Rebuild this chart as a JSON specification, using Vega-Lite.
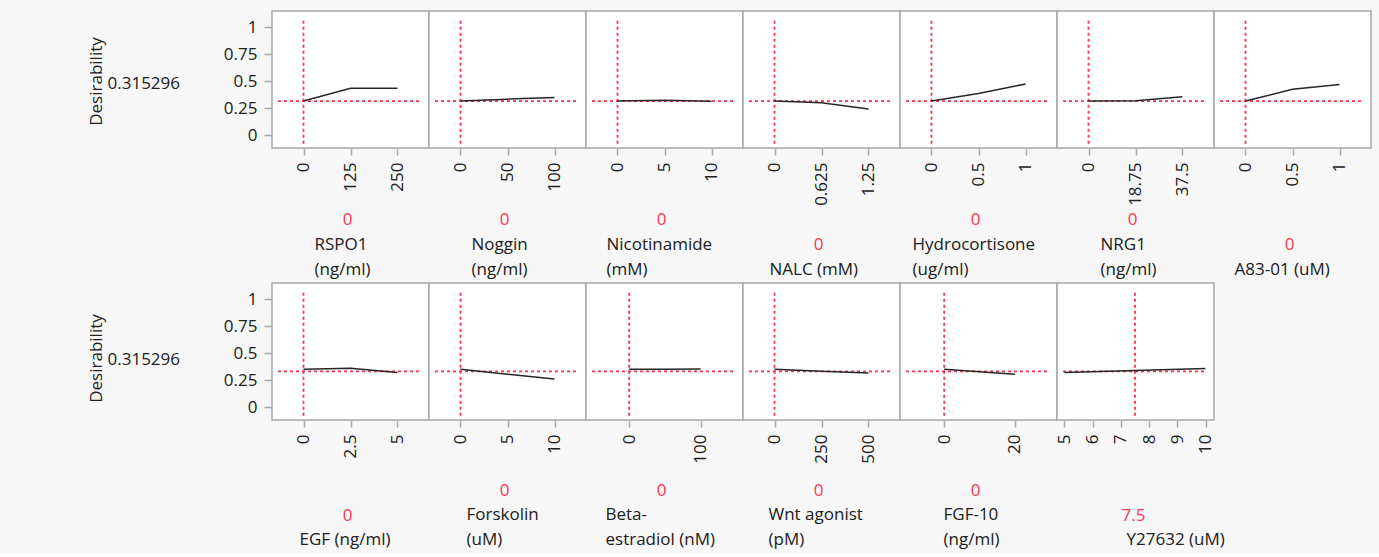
{
  "$schema": "https://vega.github.io/schema/vega-lite/v6.json",
  "background": "#f7f7f7",
  "padding": {"left": 86, "top": 10, "right": 10, "bottom": 5},
  "datasets": {
    "profiles": [
      {"factor": "RSPO1", "level": 0, "desirability": 0.315},
      {"factor": "RSPO1", "level": 125, "desirability": 0.433},
      {"factor": "RSPO1", "level": 250, "desirability": 0.433},
      {"factor": "Noggin", "level": 0, "desirability": 0.315},
      {"factor": "Noggin", "level": 50, "desirability": 0.333},
      {"factor": "Noggin", "level": 100, "desirability": 0.348},
      {"factor": "Nicotinamide", "level": 0, "desirability": 0.315},
      {"factor": "Nicotinamide", "level": 5, "desirability": 0.322},
      {"factor": "Nicotinamide", "level": 10, "desirability": 0.313},
      {"factor": "NALC", "level": 0, "desirability": 0.315},
      {"factor": "NALC", "level": 0.625, "desirability": 0.3},
      {"factor": "NALC", "level": 1.25, "desirability": 0.242},
      {"factor": "Hydrocortisone", "level": 0, "desirability": 0.315},
      {"factor": "Hydrocortisone", "level": 0.5, "desirability": 0.385},
      {"factor": "Hydrocortisone", "level": 1, "desirability": 0.474},
      {"factor": "NRG1", "level": 0, "desirability": 0.315},
      {"factor": "NRG1", "level": 18.75, "desirability": 0.317},
      {"factor": "NRG1", "level": 37.5, "desirability": 0.354},
      {"factor": "A83-01", "level": 0, "desirability": 0.315},
      {"factor": "A83-01", "level": 0.5, "desirability": 0.424},
      {"factor": "A83-01", "level": 1, "desirability": 0.468},
      {"factor": "EGF", "level": 0, "desirability": 0.351},
      {"factor": "EGF", "level": 2.5, "desirability": 0.36},
      {"factor": "EGF", "level": 5, "desirability": 0.321},
      {"factor": "Forskolin", "level": 0, "desirability": 0.351},
      {"factor": "Forskolin", "level": 5, "desirability": 0.305},
      {"factor": "Forskolin", "level": 10, "desirability": 0.26},
      {"factor": "Beta-estradiol", "level": 0, "desirability": 0.351},
      {"factor": "Beta-estradiol", "level": 50, "desirability": 0.351},
      {"factor": "Beta-estradiol", "level": 100, "desirability": 0.352},
      {"factor": "Wnt agonist", "level": 0, "desirability": 0.351},
      {"factor": "Wnt agonist", "level": 250, "desirability": 0.333},
      {"factor": "Wnt agonist", "level": 500, "desirability": 0.315},
      {"factor": "FGF-10", "level": 0, "desirability": 0.351},
      {"factor": "FGF-10", "level": 10, "desirability": 0.328},
      {"factor": "FGF-10", "level": 20, "desirability": 0.305},
      {"factor": "Y27632", "level": 5, "desirability": 0.321},
      {"factor": "Y27632", "level": 7.5, "desirability": 0.34},
      {"factor": "Y27632", "level": 10, "desirability": 0.358}
    ],
    "settings": [
      {"factor": "RSPO1", "current": 0, "overall": 0.315},
      {"factor": "Noggin", "current": 0, "overall": 0.315},
      {"factor": "Nicotinamide", "current": 0, "overall": 0.315},
      {"factor": "NALC", "current": 0, "overall": 0.315},
      {"factor": "Hydrocortisone", "current": 0, "overall": 0.315},
      {"factor": "NRG1", "current": 0, "overall": 0.315},
      {"factor": "A83-01", "current": 0, "overall": 0.315},
      {"factor": "EGF", "current": 0, "overall": 0.33},
      {"factor": "Forskolin", "current": 0, "overall": 0.33},
      {"factor": "Beta-estradiol", "current": 0, "overall": 0.33},
      {"factor": "Wnt agonist", "current": 0, "overall": 0.33},
      {"factor": "FGF-10", "current": 0, "overall": 0.33},
      {"factor": "Y27632", "current": 7.5, "overall": 0.33}
    ]
  },
  "config": {
    "font": "Open Sans",
    "view": {"stroke": "#a8a8a8", "strokeWidth": 1.5, "fill": "#ffffff"},
    "axis": {"labelFont": "Open Sans", "labelFontSize": 17, "labelColor": "#202020", "titleFont": "Open Sans", "titleFontSize": 17, "titleFontWeight": "normal", "titleColor": "#202020", "tickColor": "#a8a8a8", "tickWidth": 1.5, "domain": false, "grid": false, "labelOverlap": false, "labelFlush": false},
    "axisX": {"labelAngle": -90, "tickSize": 7, "labelPadding": 7},
    "axisY": {"tickSize": 8, "labelPadding": 7},
    "rule": {"color": "#f5334f", "strokeDash": [3, 3], "strokeWidth": 1.8},
    "line": {"color": "#262626", "strokeWidth": 1.5},
    "concat": {"spacing": 0}
  },
  "spacing": 3,
  "vconcat": [
    {
      "spacing": 0,
      "bounds": "flush",
      "hconcat": [
        {
          "width": 157, "height": 137,
          "layer": [
            {"data": {"name": "settings"}, "transform": [{"filter": "datum.factor === 'RSPO1'"}], "mark": "rule",
             "encoding": {
               "x": {"field": "current", "type": "quantitative", "scale": {"domain": [-83.8, 333.8], "nice": false, "zero": false}, "axis": {"orient": "bottom", "labels": false, "ticks": false, "domain": false, "title": "0", "titleColor": "#ff3355", "titleX": 75, "titleY": 71, "titleAlign": "center", "titleBaseline": "middle"}},
               "y": {"datum": -0.08, "type": "quantitative", "scale": {"domain": [-0.12, 1.15], "nice": false, "zero": false}, "axis": null},
               "y2": {"datum": 1.06}}},
            {"data": {"name": "settings"}, "transform": [{"filter": "datum.factor === 'RSPO1'"}], "mark": "rule",
             "encoding": {
               "y": {"field": "overall", "type": "quantitative", "axis": {"orient": "left", "labels": false, "ticks": false, "domain": false, "title": "0.315296", "titleAngle": 0, "titleAlign": "left", "titleBaseline": "middle", "titleX": -165, "titleY": 72}},
               "x": {"datum": -67.8, "type": "quantitative", "axis": null},
               "x2": {"datum": 311.2}}},
            {"data": {"name": "profiles"}, "transform": [{"filter": "datum.factor === 'RSPO1'"}], "mark": "line",
             "encoding": {
               "x": {"field": "level", "type": "quantitative", "axis": {"orient": "bottom", "values": [0, 125, 250], "format": ".6~r", "title": ["RSPO1", "(ng/ml)"], "titleX": 42, "titleY": 105, "titleAlign": "left", "titleBaseline": "bottom", "titleLineHeight": 25.5}},
               "y": {"field": "desirability", "type": "quantitative", "axis": {"orient": "left", "values": [0, 0.25, 0.5, 0.75, 1], "format": ".6~r", "title": "Desirability", "titleAngle": -90, "titleX": -175.5, "titleY": 70, "titleAlign": "center", "titleBaseline": "middle"}}}}
          ],
          "resolve": {"axis": {"x": "independent", "y": "independent"}}
        },
        {
          "width": 157, "height": 137,
          "layer": [
            {"data": {"name": "settings"}, "transform": [{"filter": "datum.factor === 'Noggin'"}], "mark": "rule",
             "encoding": {
               "x": {"field": "current", "type": "quantitative", "scale": {"domain": [-33.5, 133.5], "nice": false, "zero": false}, "axis": {"orient": "bottom", "labels": false, "ticks": false, "domain": false, "title": "0", "titleColor": "#ff3355", "titleX": 75, "titleY": 71, "titleAlign": "center", "titleBaseline": "middle"}},
               "y": {"datum": -0.08, "type": "quantitative", "scale": {"domain": [-0.12, 1.15], "nice": false, "zero": false}, "axis": null},
               "y2": {"datum": 1.06}}},
            {"data": {"name": "settings"}, "transform": [{"filter": "datum.factor === 'Noggin'"}], "mark": "rule",
             "encoding": {
               "y": {"field": "overall", "type": "quantitative", "axis": null},
               "x": {"datum": -27.1, "type": "quantitative", "axis": null},
               "x2": {"datum": 124.5}}},
            {"data": {"name": "profiles"}, "transform": [{"filter": "datum.factor === 'Noggin'"}], "mark": "line",
             "encoding": {
               "x": {"field": "level", "type": "quantitative", "axis": {"orient": "bottom", "values": [0, 50, 100], "format": ".6~r", "title": ["Noggin", "(ng/ml)"], "titleX": 42, "titleY": 105, "titleAlign": "left", "titleBaseline": "bottom", "titleLineHeight": 25.5}},
               "y": {"field": "desirability", "type": "quantitative", "axis": null}}}
          ],
          "resolve": {"axis": {"x": "independent", "y": "independent"}}
        },
        {
          "width": 157, "height": 137,
          "layer": [
            {"data": {"name": "settings"}, "transform": [{"filter": "datum.factor === 'Nicotinamide'"}], "mark": "rule",
             "encoding": {
               "x": {"field": "current", "type": "quantitative", "scale": {"domain": [-3.35, 13.35], "nice": false, "zero": false}, "axis": {"orient": "bottom", "labels": false, "ticks": false, "domain": false, "title": "0", "titleColor": "#ff3355", "titleX": 75, "titleY": 71, "titleAlign": "center", "titleBaseline": "middle"}},
               "y": {"datum": -0.08, "type": "quantitative", "scale": {"domain": [-0.12, 1.15], "nice": false, "zero": false}, "axis": null},
               "y2": {"datum": 1.06}}},
            {"data": {"name": "settings"}, "transform": [{"filter": "datum.factor === 'Nicotinamide'"}], "mark": "rule",
             "encoding": {
               "y": {"field": "overall", "type": "quantitative", "axis": null},
               "x": {"datum": -2.71, "type": "quantitative", "axis": null},
               "x2": {"datum": 12.45}}},
            {"data": {"name": "profiles"}, "transform": [{"filter": "datum.factor === 'Nicotinamide'"}], "mark": "line",
             "encoding": {
               "x": {"field": "level", "type": "quantitative", "axis": {"orient": "bottom", "values": [0, 5, 10], "format": ".6~r", "title": ["Nicotinamide", "(mM)"], "titleX": 20, "titleY": 105, "titleAlign": "left", "titleBaseline": "bottom", "titleLineHeight": 25.5}},
               "y": {"field": "desirability", "type": "quantitative", "axis": null}}}
          ],
          "resolve": {"axis": {"x": "independent", "y": "independent"}}
        },
        {
          "width": 157, "height": 137,
          "layer": [
            {"data": {"name": "settings"}, "transform": [{"filter": "datum.factor === 'NALC'"}], "mark": "rule",
             "encoding": {
               "x": {"field": "current", "type": "quantitative", "scale": {"domain": [-0.419, 1.669], "nice": false, "zero": false}, "axis": {"orient": "bottom", "labels": false, "ticks": false, "domain": false, "title": "0", "titleColor": "#ff3355", "titleX": 75, "titleY": 96, "titleAlign": "center", "titleBaseline": "middle"}},
               "y": {"datum": -0.08, "type": "quantitative", "scale": {"domain": [-0.12, 1.15], "nice": false, "zero": false}, "axis": null},
               "y2": {"datum": 1.06}}},
            {"data": {"name": "settings"}, "transform": [{"filter": "datum.factor === 'NALC'"}], "mark": "rule",
             "encoding": {
               "y": {"field": "overall", "type": "quantitative", "axis": null},
               "x": {"datum": -0.339, "type": "quantitative", "axis": null},
               "x2": {"datum": 1.556}}},
            {"data": {"name": "profiles"}, "transform": [{"filter": "datum.factor === 'NALC'"}], "mark": "line",
             "encoding": {
               "x": {"field": "level", "type": "quantitative", "axis": {"orient": "bottom", "values": [0, 0.625, 1.25], "format": ".6~r", "title": "NALC (mM)", "titleX": 26, "titleY": 130.5, "titleAlign": "left", "titleBaseline": "bottom", "titleLineHeight": 25.5}},
               "y": {"field": "desirability", "type": "quantitative", "axis": null}}}
          ],
          "resolve": {"axis": {"x": "independent", "y": "independent"}}
        },
        {
          "width": 157, "height": 137,
          "layer": [
            {"data": {"name": "settings"}, "transform": [{"filter": "datum.factor === 'Hydrocortisone'"}], "mark": "rule",
             "encoding": {
               "x": {"field": "current", "type": "quantitative", "scale": {"domain": [-0.335, 1.335], "nice": false, "zero": false}, "axis": {"orient": "bottom", "labels": false, "ticks": false, "domain": false, "title": "0", "titleColor": "#ff3355", "titleX": 75, "titleY": 71, "titleAlign": "center", "titleBaseline": "middle"}},
               "y": {"datum": -0.08, "type": "quantitative", "scale": {"domain": [-0.12, 1.15], "nice": false, "zero": false}, "axis": null},
               "y2": {"datum": 1.06}}},
            {"data": {"name": "settings"}, "transform": [{"filter": "datum.factor === 'Hydrocortisone'"}], "mark": "rule",
             "encoding": {
               "y": {"field": "overall", "type": "quantitative", "axis": null},
               "x": {"datum": -0.271, "type": "quantitative", "axis": null},
               "x2": {"datum": 1.245}}},
            {"data": {"name": "profiles"}, "transform": [{"filter": "datum.factor === 'Hydrocortisone'"}], "mark": "line",
             "encoding": {
               "x": {"field": "level", "type": "quantitative", "axis": {"orient": "bottom", "values": [0, 0.5, 1], "format": ".6~r", "title": ["Hydrocortisone", "(ug/ml)"], "titleX": 12, "titleY": 105, "titleAlign": "left", "titleBaseline": "bottom", "titleLineHeight": 25.5}},
               "y": {"field": "desirability", "type": "quantitative", "axis": null}}}
          ],
          "resolve": {"axis": {"x": "independent", "y": "independent"}}
        },
        {
          "width": 157, "height": 137,
          "layer": [
            {"data": {"name": "settings"}, "transform": [{"filter": "datum.factor === 'NRG1'"}], "mark": "rule",
             "encoding": {
               "x": {"field": "current", "type": "quantitative", "scale": {"domain": [-12.57, 50.07], "nice": false, "zero": false}, "axis": {"orient": "bottom", "labels": false, "ticks": false, "domain": false, "title": "0", "titleColor": "#ff3355", "titleX": 75, "titleY": 71, "titleAlign": "center", "titleBaseline": "middle"}},
               "y": {"datum": -0.08, "type": "quantitative", "scale": {"domain": [-0.12, 1.15], "nice": false, "zero": false}, "axis": null},
               "y2": {"datum": 1.06}}},
            {"data": {"name": "settings"}, "transform": [{"filter": "datum.factor === 'NRG1'"}], "mark": "rule",
             "encoding": {
               "y": {"field": "overall", "type": "quantitative", "axis": null},
               "x": {"datum": -10.17, "type": "quantitative", "axis": null},
               "x2": {"datum": 46.68}}},
            {"data": {"name": "profiles"}, "transform": [{"filter": "datum.factor === 'NRG1'"}], "mark": "line",
             "encoding": {
               "x": {"field": "level", "type": "quantitative", "axis": {"orient": "bottom", "values": [0, 18.75, 37.5], "format": ".6~r", "title": ["NRG1", "(ng/ml)"], "titleX": 43, "titleY": 105, "titleAlign": "left", "titleBaseline": "bottom", "titleLineHeight": 25.5}},
               "y": {"field": "desirability", "type": "quantitative", "axis": null}}}
          ],
          "resolve": {"axis": {"x": "independent", "y": "independent"}}
        },
        {
          "width": 157, "height": 137,
          "layer": [
            {"data": {"name": "settings"}, "transform": [{"filter": "datum.factor === 'A83-01'"}], "mark": "rule",
             "encoding": {
               "x": {"field": "current", "type": "quantitative", "scale": {"domain": [-0.335, 1.335], "nice": false, "zero": false}, "axis": {"orient": "bottom", "labels": false, "ticks": false, "domain": false, "title": "0", "titleColor": "#ff3355", "titleX": 75, "titleY": 96, "titleAlign": "center", "titleBaseline": "middle"}},
               "y": {"datum": -0.08, "type": "quantitative", "scale": {"domain": [-0.12, 1.15], "nice": false, "zero": false}, "axis": null},
               "y2": {"datum": 1.06}}},
            {"data": {"name": "settings"}, "transform": [{"filter": "datum.factor === 'A83-01'"}], "mark": "rule",
             "encoding": {
               "y": {"field": "overall", "type": "quantitative", "axis": null},
               "x": {"datum": -0.271, "type": "quantitative", "axis": null},
               "x2": {"datum": 1.245}}},
            {"data": {"name": "profiles"}, "transform": [{"filter": "datum.factor === 'A83-01'"}], "mark": "line",
             "encoding": {
               "x": {"field": "level", "type": "quantitative", "axis": {"orient": "bottom", "values": [0, 0.5, 1], "format": ".6~r", "title": "A83-01 (uM)", "titleX": 20, "titleY": 130.5, "titleAlign": "left", "titleBaseline": "bottom", "titleLineHeight": 25.5}},
               "y": {"field": "desirability", "type": "quantitative", "axis": null}}}
          ],
          "resolve": {"axis": {"x": "independent", "y": "independent"}}
        }
      ]
    },
    {
      "spacing": 0,
      "bounds": "flush",
      "hconcat": [
        {
          "width": 157, "height": 137,
          "layer": [
            {"data": {"name": "settings"}, "transform": [{"filter": "datum.factor === 'EGF'"}], "mark": "rule",
             "encoding": {
               "x": {"field": "current", "type": "quantitative", "scale": {"domain": [-1.676, 6.676], "nice": false, "zero": false}, "axis": {"orient": "bottom", "labels": false, "ticks": false, "domain": false, "title": "0", "titleColor": "#ff3355", "titleX": 75, "titleY": 95, "titleAlign": "center", "titleBaseline": "middle"}},
               "y": {"datum": -0.08, "type": "quantitative", "scale": {"domain": [-0.12, 1.15], "nice": false, "zero": false}, "axis": null},
               "y2": {"datum": 1.06}}},
            {"data": {"name": "settings"}, "transform": [{"filter": "datum.factor === 'EGF'"}], "mark": "rule",
             "encoding": {
               "y": {"field": "overall", "type": "quantitative", "axis": {"orient": "left", "labels": false, "ticks": false, "domain": false, "title": "0.315296", "titleAngle": 0, "titleAlign": "left", "titleBaseline": "middle", "titleX": -165, "titleY": 76}},
               "x": {"datum": -1.357, "type": "quantitative", "axis": null},
               "x2": {"datum": 6.224}}},
            {"data": {"name": "profiles"}, "transform": [{"filter": "datum.factor === 'EGF'"}], "mark": "line",
             "encoding": {
               "x": {"field": "level", "type": "quantitative", "axis": {"orient": "bottom", "values": [0, 2.5, 5], "format": ".6~r", "title": "EGF (ng/ml)", "titleX": 27, "titleY": 128, "titleAlign": "left", "titleBaseline": "bottom", "titleLineHeight": 25.5}},
               "y": {"field": "desirability", "type": "quantitative", "axis": {"orient": "left", "values": [0, 0.25, 0.5, 0.75, 1], "format": ".6~r", "title": "Desirability", "titleAngle": -90, "titleX": -175.5, "titleY": 75, "titleAlign": "center", "titleBaseline": "middle"}}}}
          ],
          "resolve": {"axis": {"x": "independent", "y": "independent"}}
        },
        {
          "width": 157, "height": 137,
          "layer": [
            {"data": {"name": "settings"}, "transform": [{"filter": "datum.factor === 'Forskolin'"}], "mark": "rule",
             "encoding": {
               "x": {"field": "current", "type": "quantitative", "scale": {"domain": [-3.35, 13.35], "nice": false, "zero": false}, "axis": {"orient": "bottom", "labels": false, "ticks": false, "domain": false, "title": "0", "titleColor": "#ff3355", "titleX": 75, "titleY": 70, "titleAlign": "center", "titleBaseline": "middle"}},
               "y": {"datum": -0.08, "type": "quantitative", "scale": {"domain": [-0.12, 1.15], "nice": false, "zero": false}, "axis": null},
               "y2": {"datum": 1.06}}},
            {"data": {"name": "settings"}, "transform": [{"filter": "datum.factor === 'Forskolin'"}], "mark": "rule",
             "encoding": {
               "y": {"field": "overall", "type": "quantitative", "axis": null},
               "x": {"datum": -2.71, "type": "quantitative", "axis": null},
               "x2": {"datum": 12.45}}},
            {"data": {"name": "profiles"}, "transform": [{"filter": "datum.factor === 'Forskolin'"}], "mark": "line",
             "encoding": {
               "x": {"field": "level", "type": "quantitative", "axis": {"orient": "bottom", "values": [0, 5, 10], "format": ".6~r", "title": ["Forskolin", "(uM)"], "titleX": 37, "titleY": 103, "titleAlign": "left", "titleBaseline": "bottom", "titleLineHeight": 25.5}},
               "y": {"field": "desirability", "type": "quantitative", "axis": null}}}
          ],
          "resolve": {"axis": {"x": "independent", "y": "independent"}}
        },
        {
          "width": 157, "height": 137,
          "layer": [
            {"data": {"name": "settings"}, "transform": [{"filter": "datum.factor === 'Beta-estradiol'"}], "mark": "rule",
             "encoding": {
               "x": {"field": "current", "type": "quantitative", "scale": {"domain": [-60.6, 159.5], "nice": false, "zero": false}, "axis": {"orient": "bottom", "labels": false, "ticks": false, "domain": false, "title": "0", "titleColor": "#ff3355", "titleX": 75, "titleY": 70, "titleAlign": "center", "titleBaseline": "middle"}},
               "y": {"datum": -0.08, "type": "quantitative", "scale": {"domain": [-0.12, 1.15], "nice": false, "zero": false}, "axis": null},
               "y2": {"datum": 1.06}}},
            {"data": {"name": "settings"}, "transform": [{"filter": "datum.factor === 'Beta-estradiol'"}], "mark": "rule",
             "encoding": {
               "y": {"field": "overall", "type": "quantitative", "axis": null},
               "x": {"datum": -52.2, "type": "quantitative", "axis": null},
               "x2": {"datum": 147.6}}},
            {"data": {"name": "profiles"}, "transform": [{"filter": "datum.factor === 'Beta-estradiol'"}], "mark": "line",
             "encoding": {
               "x": {"field": "level", "type": "quantitative", "axis": {"orient": "bottom", "values": [0, 100], "format": ".6~r", "title": ["Beta-", "estradiol (nM)"], "titleX": 19, "titleY": 103, "titleAlign": "left", "titleBaseline": "bottom", "titleLineHeight": 25.5}},
               "y": {"field": "desirability", "type": "quantitative", "axis": null}}}
          ],
          "resolve": {"axis": {"x": "independent", "y": "independent"}}
        },
        {
          "width": 157, "height": 137,
          "layer": [
            {"data": {"name": "settings"}, "transform": [{"filter": "datum.factor === 'Wnt agonist'"}], "mark": "rule",
             "encoding": {
               "x": {"field": "current", "type": "quantitative", "scale": {"domain": [-167.6, 667.6], "nice": false, "zero": false}, "axis": {"orient": "bottom", "labels": false, "ticks": false, "domain": false, "title": "0", "titleColor": "#ff3355", "titleX": 75, "titleY": 70, "titleAlign": "center", "titleBaseline": "middle"}},
               "y": {"datum": -0.08, "type": "quantitative", "scale": {"domain": [-0.12, 1.15], "nice": false, "zero": false}, "axis": null},
               "y2": {"datum": 1.06}}},
            {"data": {"name": "settings"}, "transform": [{"filter": "datum.factor === 'Wnt agonist'"}], "mark": "rule",
             "encoding": {
               "y": {"field": "overall", "type": "quantitative", "axis": null},
               "x": {"datum": -135.7, "type": "quantitative", "axis": null},
               "x2": {"datum": 622.4}}},
            {"data": {"name": "profiles"}, "transform": [{"filter": "datum.factor === 'Wnt agonist'"}], "mark": "line",
             "encoding": {
               "x": {"field": "level", "type": "quantitative", "axis": {"orient": "bottom", "values": [0, 250, 500], "format": ".6~r", "title": ["Wnt agonist", "(pM)"], "titleX": 25, "titleY": 103, "titleAlign": "left", "titleBaseline": "bottom", "titleLineHeight": 25.5}},
               "y": {"field": "desirability", "type": "quantitative", "axis": null}}}
          ],
          "resolve": {"axis": {"x": "independent", "y": "independent"}}
        },
        {
          "width": 157, "height": 137,
          "layer": [
            {"data": {"name": "settings"}, "transform": [{"filter": "datum.factor === 'FGF-10'"}], "mark": "rule",
             "encoding": {
               "x": {"field": "current", "type": "quantitative", "scale": {"domain": [-12.5, 31.9], "nice": false, "zero": false}, "axis": {"orient": "bottom", "labels": false, "ticks": false, "domain": false, "title": "0", "titleColor": "#ff3355", "titleX": 75, "titleY": 70, "titleAlign": "center", "titleBaseline": "middle"}},
               "y": {"datum": -0.08, "type": "quantitative", "scale": {"domain": [-0.12, 1.15], "nice": false, "zero": false}, "axis": null},
               "y2": {"datum": 1.06}}},
            {"data": {"name": "settings"}, "transform": [{"filter": "datum.factor === 'FGF-10'"}], "mark": "rule",
             "encoding": {
               "y": {"field": "overall", "type": "quantitative", "axis": null},
               "x": {"datum": -10.8, "type": "quantitative", "axis": null},
               "x2": {"datum": 29.5}}},
            {"data": {"name": "profiles"}, "transform": [{"filter": "datum.factor === 'FGF-10'"}], "mark": "line",
             "encoding": {
               "x": {"field": "level", "type": "quantitative", "axis": {"orient": "bottom", "values": [0, 20], "format": ".6~r", "title": ["FGF-10", "(ng/ml)"], "titleX": 43, "titleY": 103, "titleAlign": "left", "titleBaseline": "bottom", "titleLineHeight": 25.5}},
               "y": {"field": "desirability", "type": "quantitative", "axis": null}}}
          ],
          "resolve": {"axis": {"x": "independent", "y": "independent"}}
        },
        {
          "width": 157, "height": 137,
          "layer": [
            {"data": {"name": "settings"}, "transform": [{"filter": "datum.factor === 'Y27632'"}], "mark": "rule",
             "encoding": {
               "x": {"field": "current", "type": "quantitative", "scale": {"domain": [4.737, 10.3], "nice": false, "zero": false}, "axis": {"orient": "bottom", "labels": false, "ticks": false, "domain": false, "title": "7.5", "titleColor": "#ff3355", "titleX": 76, "titleY": 95, "titleAlign": "center", "titleBaseline": "middle"}},
               "y": {"datum": -0.08, "type": "quantitative", "scale": {"domain": [-0.12, 1.15], "nice": false, "zero": false}, "axis": null},
               "y2": {"datum": 1.06}}},
            {"data": {"name": "settings"}, "transform": [{"filter": "datum.factor === 'Y27632'"}], "mark": "rule",
             "encoding": {
               "y": {"field": "overall", "type": "quantitative", "axis": null},
               "x": {"datum": 4.95, "type": "quantitative", "axis": null},
               "x2": {"datum": 10.0}}},
            {"data": {"name": "profiles"}, "transform": [{"filter": "datum.factor === 'Y27632'"}], "mark": "line",
             "encoding": {
               "x": {"field": "level", "type": "quantitative", "axis": {"orient": "bottom", "values": [5, 6, 7, 8, 9, 10], "format": ".6~r", "title": "Y27632 (uM)", "titleX": 69, "titleY": 128, "titleAlign": "left", "titleBaseline": "bottom", "titleLineHeight": 25.5}},
               "y": {"field": "desirability", "type": "quantitative", "axis": null}}}
          ],
          "resolve": {"axis": {"x": "independent", "y": "independent"}}
        }
      ]
    }
  ]
}
